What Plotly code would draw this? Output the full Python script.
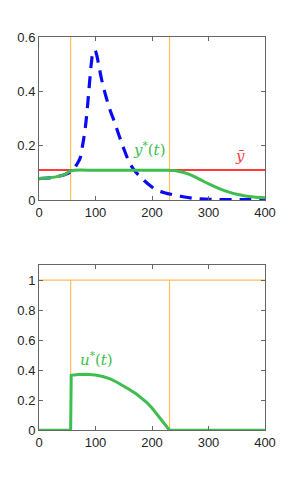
import plotly.graph_objects as go

# ---- data ----
t_switch = [56, 231]
y_bar = 0.111

t_blue = [0, 15, 30, 45, 56, 62, 67, 72.6, 77, 81.4, 84.5, 87.3, 90, 93, 96, 99, 102, 105, 111, 118, 126, 134.5, 142, 150, 158, 166, 175, 185, 196, 208, 222, 238, 255, 270, 285, 310, 340, 370, 400]
y_blue = [0.080, 0.082, 0.086, 0.094, 0.105, 0.117, 0.132, 0.154, 0.200, 0.258, 0.315, 0.380, 0.445, 0.510, 0.548, 0.551, 0.535, 0.505, 0.442, 0.385, 0.330, 0.283, 0.236, 0.190, 0.148, 0.118, 0.095, 0.075, 0.055, 0.038, 0.028, 0.020, 0.013, 0.008, 0.005, 0.003, 0.003, 0.003, 0.003]

t_green = [0, 15, 30, 45, 56, 100, 150, 200, 231, 240, 250, 261, 275, 290, 305, 320, 335, 350, 365, 380, 400]
y_green = [0.080, 0.082, 0.086, 0.094, 0.108, 0.110, 0.110, 0.110, 0.110, 0.109, 0.105, 0.099, 0.087, 0.071, 0.056, 0.042, 0.031, 0.022, 0.016, 0.012, 0.009]

t_u = [0, 56, 57, 62, 70, 84, 100, 113, 126, 138, 149, 160, 173, 182, 191, 200, 208, 214, 220, 226, 231, 400]
u_val = [0, 0, 0.366, 0.369, 0.372, 0.373, 0.368, 0.358, 0.342, 0.320, 0.297, 0.272, 0.240, 0.213, 0.184, 0.148, 0.110, 0.081, 0.051, 0.022, 0.0, 0]

x_ticks = [0, 100, 200, 300, 400]
y1_ticks = [0, 0.2, 0.4, 0.6]
y2_ticks = [0, 0.2, 0.4, 0.6, 0.8, 1]

ORANGE = "#FFBE5A"
GREEN = "#3DBE4E"
RED = "#FF3B3B"
BLUE = "#0A0AF5"

fig = go.Figure()

# top panel
for ts in t_switch:
    fig.add_trace(go.Scatter(x=[ts, ts], y=[0, 0.6], mode="lines",
                             line=dict(color=ORANGE, width=1.2), xaxis="x", yaxis="y", showlegend=False))
fig.add_trace(go.Scatter(x=[0, 400], y=[y_bar, y_bar], mode="lines",
                         line=dict(color=RED, width=2), xaxis="x", yaxis="y", showlegend=False))
fig.add_trace(go.Scatter(x=t_blue, y=y_blue, mode="lines", line_shape="spline",
                         line=dict(color=BLUE, width=3.2, dash="12px,8px"), xaxis="x", yaxis="y", showlegend=False))
fig.add_trace(go.Scatter(x=t_green, y=y_green, mode="lines", line_shape="spline",
                         line=dict(color=GREEN, width=3), xaxis="x", yaxis="y", showlegend=False))

# bottom panel
fig.add_trace(go.Scatter(x=[0, 400], y=[1, 1], mode="lines",
                         line=dict(color=ORANGE, width=1.2), xaxis="x2", yaxis="y2", showlegend=False))
for ts in t_switch:
    fig.add_trace(go.Scatter(x=[ts, ts], y=[0, 1], mode="lines",
                             line=dict(color=ORANGE, width=1.2), xaxis="x2", yaxis="y2", showlegend=False))
fig.add_trace(go.Scatter(x=t_u, y=u_val, mode="lines",
                         line=dict(color=GREEN, width=3), xaxis="x2", yaxis="y2", showlegend=False))

axis_common = dict(showgrid=False, zeroline=False, showline=True, linecolor="#666666", linewidth=1,
                   mirror="ticks", ticks="inside", ticklen=4, tickcolor="#666666",
                   tickfont=dict(family="Liberation Sans, Arial, sans-serif", size=13, color="#262626"))

W, H, OFF = 286, 476, 8


def px_x(p):
    return (p - OFF) / W


def px_y(p):
    return 1 - (p - OFF) / H


dom_x = [px_x(39), px_x(265)]
fig.update_layout(
    width=W, height=H, margin=dict(l=0, r=0, t=0, b=0),
    paper_bgcolor="white", plot_bgcolor="white",
    xaxis=dict(domain=dom_x, range=[0, 400], tickvals=x_ticks, anchor="y", automargin=False, **axis_common),
    yaxis=dict(domain=[px_y(200.3), px_y(37)], range=[0, 0.6], tickvals=y1_ticks,
               ticktext=["0", "0.2", "0.4", "0.6"], anchor="x", automargin=False, **axis_common),
    xaxis2=dict(domain=dom_x, range=[0, 400], tickvals=x_ticks, anchor="y2", automargin=False, **axis_common),
    yaxis2=dict(domain=[px_y(430.3), px_y(265)], range=[0, 1.1], tickvals=y2_ticks,
                ticktext=["0", "0.2", "0.4", "0.6", "0.8", "1"], anchor="x2", automargin=False, **axis_common),
)

label_font = dict(family="DejaVu Serif, serif", size=15)
fig.add_annotation(x=195, y=0.145, xref="x", yref="y", text="<i>y</i><sup>*</sup>(<i>t</i>)",
                   showarrow=False, yanchor="bottom", font=dict(color=GREEN, **label_font))
fig.add_annotation(x=356, y=0.122, xref="x", yref="y", text="<i>ȳ</i>",
                   showarrow=False, yanchor="bottom", font=dict(color=RED, **label_font))
fig.add_annotation(x=101, y=0.395, xref="x2", yref="y2", text="<i>u</i><sup>*</sup>(<i>t</i>)",
                   showarrow=False, yanchor="bottom", font=dict(color=GREEN, **label_font))

fig.write_html("out.html")
